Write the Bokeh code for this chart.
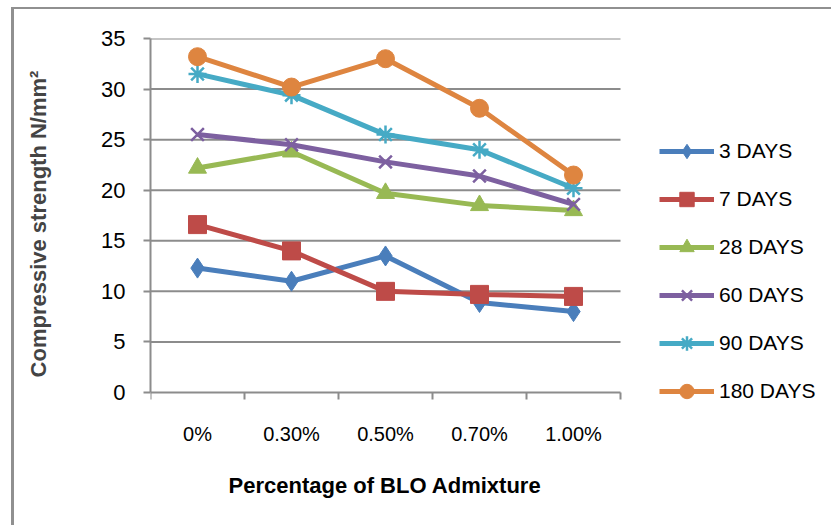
from bokeh.plotting import figure
from bokeh.models import FixedTicker, Legend, LegendItem, Range1d, Title
from bokeh.embed import file_html
from bokeh.resources import INLINE

categories = ["0%", "0.30%", "0.50%", "0.70%", "1.00%"]
series_names = ["3 DAYS", "7 DAYS", "28 DAYS", "60 DAYS", "90 DAYS", "180 DAYS"]
days_3 = [12.3, 11.0, 13.5, 8.9, 8.0]
days_7 = [16.6, 14.0, 10.0, 9.7, 9.5]
days_28 = [22.2, 23.8, 19.7, 18.5, 18.0]
days_60 = [25.5, 24.5, 22.8, 21.4, 18.6]
days_90 = [31.5, 29.4, 25.5, 24.0, 20.2]
days_180 = [33.2, 30.2, 33.0, 28.1, 21.5]
y_ticks = [0, 5, 10, 15, 20, 25, 30, 35]
y_max = 35

colors = ["#4A7EBB", "#BE4B48", "#98B954", "#7D60A0", "#46AAC5", "#DE8540"]
markers = ["diamond", "square", "triangle", "x", "asterisk", "circle"]
values = [days_3, days_7, days_28, days_60, days_90, days_180]

FONT = "Liberation Sans"
GRID = "#8c8c8c"

# layout (canvas pixels)
W, H = 820, 518
LEFT, TOP, RIGHT, BOTTOM = 136, 29, 4, 118
AXIS_W = 470          # width taken by the categories
AXIS_H = 354          # height from 0 to y_max
TICK = 7
frame_w = W - LEFT - RIGHT
frame_h = H - TOP - BOTTOM
n = len(categories)
x_end = n * frame_w / AXIS_W
y_per_px = y_max / AXIS_H
y_start = -(frame_h - AXIS_H) * y_per_px

p = figure(width=W, height=H, output_backend="svg", toolbar_location=None,
           min_border_left=LEFT, min_border_right=RIGHT, min_border_top=TOP, min_border_bottom=BOTTOM,
           x_range=Range1d(0, x_end), y_range=Range1d(y_start, y_max))
p.styles = {"margin-left": "11px", "margin-top": "7px",
            "border-left": "3px solid #909090", "border-top": "2px solid #909090"}
p.outline_line_color = None
p.background_fill_color = "white"
p.border_fill_color = "white"

# horizontal gridlines (the one at 0 is the category axis line)
p.segment(x0=[0] * len(y_ticks), x1=[n] * len(y_ticks), y0=y_ticks, y1=y_ticks,
          line_color=GRID, line_width=2, level="underlay")
# category boundary ticks under the 0 line
bounds_x = list(range(n + 1))
p.segment(x0=bounds_x, x1=bounds_x, y0=[0] * (n + 1), y1=[-TICK * y_per_px] * (n + 1),
          line_color=GRID, line_width=2, level="underlay")

xs = [i + 0.5 for i in range(n)]

items = []
for name, vals, c, m in zip(series_names, values, colors, markers):
    r1 = p.line(xs, vals, line_color=c, line_width=5)
    if m in ("x", "asterisk"):
        r2 = p.scatter(xs, vals, marker=m, size=18, line_color=c, line_width=2.5, fill_color=c)
    else:
        sz = 20 if m == "diamond" else 18
        r2 = p.scatter(xs, vals, marker=m, size=sz, line_color=c, fill_color=c, line_width=1)
    items.append(LegendItem(label=name, renderers=[r1, r2]))

# x axis: category labels only
p.xaxis.ticker = FixedTicker(ticks=xs, minor_ticks=[])
p.xaxis.major_label_overrides = {x: c for x, c in zip(xs, categories)}
p.xaxis.major_tick_line_color = None
p.xaxis.major_tick_out = 0
p.xaxis.major_tick_in = 0
p.xaxis.axis_line_color = None
p.xaxis.major_label_text_font = FONT
p.xaxis.major_label_text_font_size = "20px"
p.xaxis.major_label_text_color = "black"
p.xaxis.major_label_standoff = 13

p.add_layout(Title(text="Percentage of BLO Admixture", align="left", offset=78, standoff=46,
                   text_font=FONT, text_font_style="bold", text_font_size="22px",
                   text_color="black"), "below")

# y axis
p.yaxis.bounds = (0, y_max)
p.yaxis.ticker = FixedTicker(ticks=y_ticks, minor_ticks=[])
p.yaxis.major_tick_line_color = GRID
p.yaxis.major_tick_line_width = 2
p.yaxis.major_tick_out = TICK
p.yaxis.major_tick_in = 0
p.yaxis.axis_line_color = GRID
p.yaxis.axis_line_width = 2
p.yaxis.major_label_text_font = FONT
p.yaxis.major_label_text_font_size = "22px"
p.yaxis.major_label_text_color = "black"
p.yaxis.major_label_standoff = 18
p.yaxis.axis_label = "Compressive strength N/mm\u00b2"
p.yaxis.axis_label_text_font = FONT
p.yaxis.axis_label_text_font_style = "bold"
p.yaxis.axis_label_text_font_size = "22px"
p.yaxis.axis_label_standoff = 47

p.xgrid.grid_line_color = None
p.ygrid.grid_line_color = None

legend = Legend(items=items, location=(509, 0), orientation="vertical",
                glyph_width=55, glyph_height=36, label_height=20, spacing=12,
                label_standoff=5, padding=0, margin=0,
                border_line_color=None, background_fill_alpha=0,
                label_text_font=FONT, label_text_font_size="21px", label_text_color="black")
p.add_layout(legend, "center")

open("out.html", "w").write(file_html(p, INLINE))
